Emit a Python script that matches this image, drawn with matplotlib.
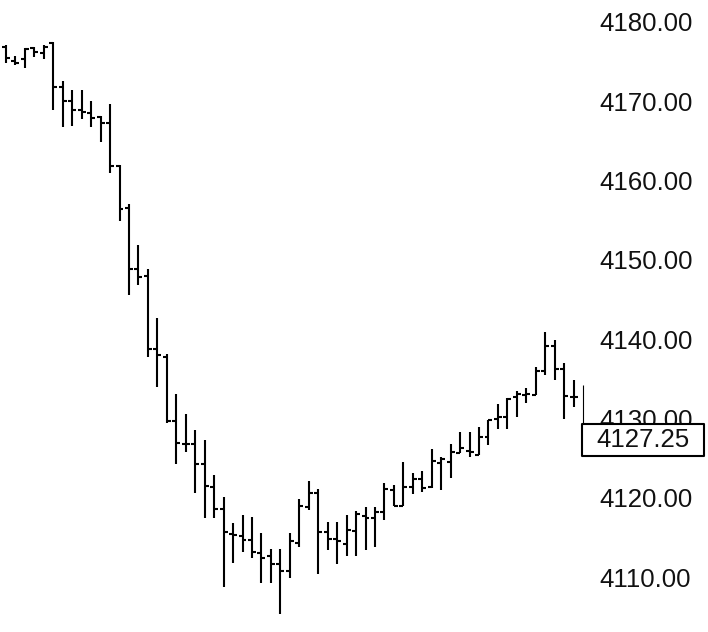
import matplotlib
matplotlib.use("Agg")
import matplotlib.pyplot as plt
import matplotlib.transforms as mtransforms
from matplotlib.patches import Rectangle

plt.rcParams['font.family'] = ['Liberation Sans', 'DejaVu Sans']

# OHLC values (one bar per entry)
opens = [4176.8, 4175.1, 4175.3, 4176.7, 4176.1, 4177.3, 4171.8, 4170.0, 4168.9, 4168.5,
         4168.0, 4167.3, 4161.8, 4156.6, 4148.8, 4148.0, 4138.8, 4137.8, 4129.7, 4126.75,
         4126.75, 4124.3, 4121.3, 4118.55, 4115.4, 4115.2, 4114.7, 4113.0, 4112.7, 4111.7,
         4110.7, 4114.3, 4118.8, 4120.6, 4115.7, 4114.75, 4114.2, 4115.8, 4117.7, 4117.4,
         4118.25, 4121.0, 4119.0, 4121.3, 4122.35, 4121.3, 4124.35, 4124.55, 4125.7, 4125.9,
         4125.4, 4127.7, 4129.9, 4130.2, 4132.75, 4133.0, 4133.0, 4136.0, 4139.15, 4136.2,
         4132.75]
highs = [4177.1, 4175.7, 4176.75, 4176.9, 4177.1, 4177.5, 4172.5, 4171.4, 4171.4, 4170.0,
         4168.1, 4169.7, 4162.0, 4157.1, 4151.9, 4148.8, 4142.7, 4138.1, 4133.1, 4130.6,
         4128.55, 4127.3, 4122.9, 4120.1, 4116.8, 4117.8, 4117.6, 4115.5, 4113.5, 4113.5,
         4115.5, 4119.85, 4122.1, 4121.1, 4117.0, 4117.0, 4117.8, 4118.3, 4118.8, 4118.8,
         4121.8, 4121.6, 4124.55, 4123.1, 4123.4, 4126.2, 4125.1, 4126.75, 4128.3, 4128.3,
         4128.95, 4129.8, 4131.8, 4132.55, 4133.4, 4133.8, 4136.5, 4140.9, 4139.9, 4137.0,
         4134.85]
lows = [4174.8, 4174.6, 4174.2, 4175.6, 4175.3, 4168.9, 4166.7, 4166.9, 4167.8, 4166.7,
        4164.9, 4161.0, 4154.9, 4145.6, 4146.8, 4137.7, 4134.0, 4129.4, 4124.2, 4125.8,
        4120.6, 4117.4, 4117.4, 4108.8, 4111.8, 4113.1, 4112.4, 4109.3, 4109.3, 4105.4,
        4109.85, 4113.8, 4118.5, 4110.35, 4113.35, 4111.6, 4112.6, 4112.6, 4113.4, 4113.8,
        4117.2, 4118.9, 4119.0, 4120.45, 4120.7, 4121.2, 4121.0, 4122.45, 4125.7, 4125.1,
        4125.4, 4126.65, 4128.65, 4128.65, 4130.2, 4132.0, 4133.0, 4135.5, 4134.9, 4129.9,
        4131.4]
closes = [4175.5, 4174.8, 4176.6, 4176.2, 4176.9, 4171.8, 4170.0, 4168.9, 4168.6, 4167.9,
          4167.3, 4161.8, 4156.4, 4148.8, 4147.8, 4138.8, 4138.0, 4129.7, 4126.95, 4126.75,
          4124.3, 4121.5, 4118.55, 4115.7, 4115.3, 4114.7, 4113.2, 4112.45, 4111.7, 4110.7,
          4114.5, 4119.0, 4120.6, 4115.7, 4114.75, 4114.5, 4115.9, 4118.0, 4117.4, 4118.25,
          4121.1, 4119.0, 4121.35, 4122.35, 4121.2, 4124.65, 4124.9, 4125.8, 4126.25, 4125.75,
          4127.7, 4129.8, 4130.2, 4132.4, 4133.1, 4133.1, 4136.0, 4139.15, 4136.2, 4132.8,
          4132.75]

# live (last) bar: only high and current price
live_high = 4134.2
last_price = 4127.25

yticks = [4110, 4120, 4130, 4140, 4150, 4160, 4170, 4180]

fig = plt.figure(figsize=(7.08, 6.32), dpi=100)
ax = fig.add_axes([0, 0, 590 / 708, 1])

n = len(opens)
xs = list(range(n))
tick_len = 0.42
lw = 1.5

ax.vlines(xs, lows, highs, color='black', linewidth=lw)
ax.hlines(opens, [x - tick_len for x in xs], xs, color='black', linewidth=lw)
ax.hlines(closes, xs, [x + tick_len for x in xs], color='black', linewidth=lw)

# live bar, thinner
ax.vlines([n], [last_price], [live_high], color='black', linewidth=0.8)

ax.set_xlim(-0.634, 61.73)
ax.set_ylim(4103.07, 4182.77)

ax.yaxis.tick_right()
ax.set_yticks(yticks)
ax.set_yticklabels([f"{v:.2f}" for v in yticks])
ax.tick_params(axis='y', length=0, pad=6.5, labelsize=18.6, labelcolor='#111111')
ax.set_xticks([])
for s in ax.spines.values():
    s.set_visible(False)

# current price box
trans = mtransforms.blended_transform_factory(fig.transFigure, ax.transData)
box = Rectangle((582 / 708, last_price - 2.0), 122 / 708, 4.0, transform=trans,
                facecolor='white', edgecolor='black', linewidth=1.5,
                joinstyle='round', clip_on=False, zorder=5)
ax.add_patch(box)
ax.text(643 / 708, last_price, f"{last_price:.2f}", transform=trans,
        ha='center', va='center', fontsize=18.6, color='#111111', zorder=6, clip_on=False)

plt.savefig("out.png", dpi=100)
plt.close()
